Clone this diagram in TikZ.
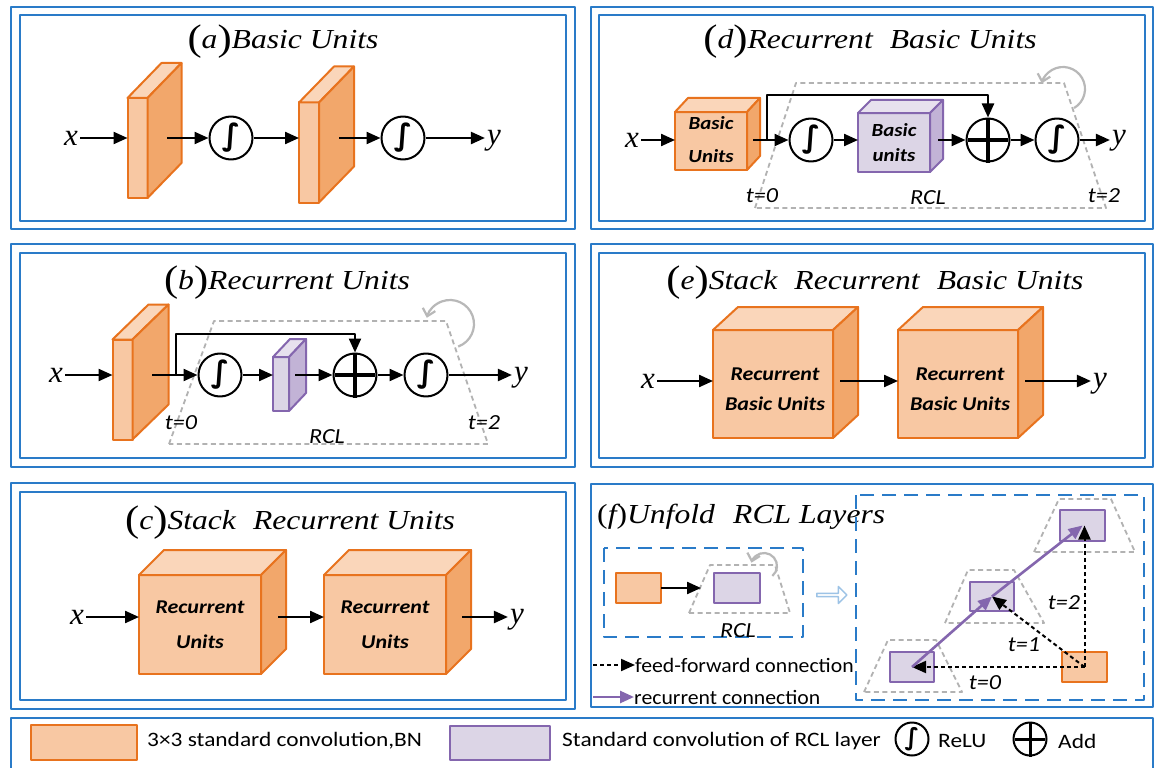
\documentclass[tikz,border=0pt]{standalone}
\usepackage{fontspec}
\setmainfont{Liberation Serif}
\newfontfamily\calfont{Carlito}
\newfontfamily\djvfont{DejaVu Sans}
\usetikzlibrary{arrows.meta,shapes.geometric,shapes.arrows}

\definecolor{pblue}{HTML}{2A7BC8}
\definecolor{lblue}{HTML}{9DC3E6}
\definecolor{oedge}{HTML}{E8731E}
\definecolor{ofront}{HTML}{F8C8A3}
\definecolor{oside}{HTML}{F2A76B}
\definecolor{otop}{HTML}{FAD6BA}
\definecolor{pedge}{HTML}{8466AE}
\definecolor{pfront}{HTML}{DCD5E6}
\definecolor{pside}{HTML}{C2B3D6}
\definecolor{ptop}{HTML}{E7E1EE}
\definecolor{rclgray}{HTML}{B2B2B2}
\definecolor{loopgray}{HTML}{B8B8B8}

\newcommand\tp[1]{{\fontsize{37}{37}\selectfont\upshape\raisebox{-2pt}{#1}}}
\newcommand\bi[2]{\calfont\bfseries\itshape\fontsize{#1}{#2}\selectfont}

\tikzset{
  frame/.style={draw=pblue, line width=2.4pt},
  arr/.style={line width=2.3pt, -{Triangle[length=14pt,width=12pt]}},
  faceo/.style={rectangle, draw=oedge, fill=ofront, line width=2pt, inner sep=0pt, outer sep=0pt},
  facep/.style={rectangle, draw=pedge, fill=pfront, line width=2pt, inner sep=0pt, outer sep=0pt},
  edgeo/.style={draw=oedge, line width=2pt},
  edgep/.style={draw=pedge, line width=2pt},
  relu/.style={circle, draw, line width=2pt, minimum size=43pt, inner sep=0pt, fill=white,
    font=\djvfont\bfseries\fontsize{30}{30}\selectfont},
  plusc/.style={circle, draw, line width=2pt, minimum size=43pt, inner sep=0pt, fill=white},
  plusbar/.style={line width=3.8pt, shorten <=2.5pt, shorten >=2.5pt},
  ttl/.style={font=\fontsize{27.5}{32}\selectfont\itshape, xscale=1.15, inner sep=0pt},
  var/.style={font=\fontsize{31}{31}\selectfont\itshape, inner sep=2pt},
  lbl/.style={font=\calfont\itshape\fontsize{21.5}{21.5}\selectfont, xscale=1.12, inner sep=0pt},
  cubelbl/.style={align=center, inner sep=0pt, xscale=1.13},
  rcl/.style={draw=rclgray, line width=1.8pt, dash pattern=on 5pt off 3.5pt},
  loopar/.style={draw=loopgray, line width=2.2pt, -{Straight Barb[length=7pt,width=13pt]}},
  bdash/.style={draw=pblue, line width=2pt, dash pattern=on 14pt off 8pt},
  ff/.style={line width=2pt, dash pattern=on 4pt off 3pt, -{Triangle[length=14pt,width=12pt]}},
  rec/.style={draw=pedge, line width=2.6pt, -{Triangle[length=14pt,width=12pt]}},
  lgd/.style={font=\calfont\fontsize{20.5}{20.5}\selectfont, inner sep=0pt},
}

% front face node plus top and side faces of a box
% #1 name, #2 #3 centre of the front face, #4 width, #5 height, #6 #7 depth, #8 o/p colour set
\newcommand\cuboid[8]{%
  \node[face#8, minimum width=#4pt, minimum height=#5pt] (#1) at (#2,#3) {};
  \filldraw[edge#8, fill=#8top] (#1.north west) -- ++(#6,-#7) -- ++(#4,0) -- (#1.north east) -- cycle;
  \filldraw[edge#8, fill=#8side] (#1.north east) -- ++(#6,-#7) -- ++(0,#5) -- (#1.south east) -- cycle;}

\begin{document}
\begin{tikzpicture}[x=1pt,y=-1pt,line join=round]
\useasboundingbox (0,0) rectangle (1160,768);
\fill[white] (0,0) rectangle (1160,768);

% ---------------- frames
\draw[frame] (11,7) rectangle (575,229);    \draw[frame] (20,15) rectangle (566,221);
\draw[frame] (591,7) rectangle (1153,229);  \draw[frame] (599,15) rectangle (1145,221);
\draw[frame] (11,244) rectangle (575,467);  \draw[frame] (20,253) rectangle (566,458);
\draw[frame] (591,244) rectangle (1153,467);\draw[frame] (599,253) rectangle (1145,458);
\draw[frame] (11,483) rectangle (575,709);  \draw[frame] (20,492) rectangle (566,700);
\draw[frame] (591,484) rectangle (1153,707);
\draw[frame] (11,718) rectangle (1153,775);

% ---------------- (a) basic units
\node[ttl] (ta) at (283,42) {\tp{(}a\tp{)}Basic Units};
\node[var] (ax) at (71,138) {x};
\cuboid{as1}{137.5}{148}{20}{100}{34}{35}{o}
\node[relu] (ar1) at (231,138) {∫};
\cuboid{as2}{309}{152.5}{20}{100}{35}{36}{o}
\node[relu] (ar2) at (403,138) {∫};
\node[var] (ay) at (494,141) {y};
\coordinate (ao1) at (167,138);
\coordinate (ao2) at (339,138);
\draw[arr] (ax) -- (ax -| as1.west);
\draw[arr] (ao1) -- (ar1);
\draw[arr] (ar1) -- (ar1 -| as2.west);
\draw[arr] (ao2) -- (ar2);
\draw[arr] (ar2) -- (ar2 -| ay.west);

% ---------------- (d) recurrent basic units
\node[ttl] (td) at (870,42) {\tp{(}d\tp{)}Recurrent\hspace{8pt} Basic Units};
\draw[rcl] (755,208) -- (796,83) -- (1064,83) -- (1106,208) -- cycle;
\coordinate (dloop) at (1063,89);
\draw[loopar] (dloop) ++(60:22) arc[start angle=60,end angle=-165,radius=22];
\node[var] (dx) at (632,140) {x};
\cuboid{dbu}{711}{141}{72}{58}{13}{14}{o}
\node[cubelbl, font=\bi{18.5}{33}] (dbut) at (711,140) {Basic\\Units};
\node[relu] (dr1) at (811,140) {∫};
\cuboid{dpu}{894}{142.5}{72}{59}{13}{13}{p}
\node[cubelbl, font=\bi{18.5}{25}] (dput) at (894,143) {Basic\\units};
\node[plusc] (dp) at (988,140) {};
\draw[plusbar] (dp.north) -- (dp.south) (dp.west) -- (dp.east);
\node[relu] (dr2) at (1057,140) {∫};
\node[var] (dy) at (1119,141) {y};
\coordinate (do1) at (753,140);
\coordinate (dsk) at (767,140);
\coordinate (do2) at (938,140);
\draw[arr] (dx) -- (dx -| dbu.west);
\draw[arr] (do1) -- (dr1);
\draw[arr] (dr1) -- (dr1 -| dpu.west);
\draw[arr] (do2) -- (dp);
\draw[arr] (dp) -- (dr2);
\draw[arr] (dr2) -- (dr2 -| dy.west);
\draw[arr] (dsk) -- ++(0,-45) -| (dp.north);
\node[lbl] (dt0) at (762,196) {t=0};
\node[lbl] (drcl) at (928,198) {RCL};
\node[lbl] (dt2) at (1104,196) {t=2};

% ---------------- (b) recurrent units
\node[ttl] (tb) at (287,283) {\tp{(}b\tp{)}Recurrent Units};
\draw[rcl] (169,444) -- (214,321) -- (446,321) -- (488,444) -- cycle;
\coordinate (bloop) at (450,324);
\draw[loopar] (bloop) ++(70:24) arc[start angle=70,end angle=-165,radius=24];
\node[var] (bx) at (56,375) {x};
\cuboid{bs}{122.5}{389.5}{20}{100}{36}{35}{o}
\node[relu] (br1) at (220,375) {∫};
\cuboid{bq}{281}{384}{16}{54}{17}{18}{p}
\node[plusc] (bp) at (355,375) {};
\draw[plusbar] (bp.north) -- (bp.south) (bp.west) -- (bp.east);
\node[relu] (br2) at (426,375) {∫};
\node[var] (by) at (521,378) {y};
\coordinate (bo1) at (152,375);
\coordinate (bsk) at (176,375);
\coordinate (bo2) at (295,375);
\draw[arr] (bx) -- (bx -| bs.west);
\draw[arr] (bo1) -- (br1);
\draw[arr] (br1) -- (br1 -| bq.west);
\draw[arr] (bo2) -- (bp);
\draw[arr] (bp) -- (br2);
\draw[arr] (br2) -- (br2 -| by.west);
\draw[arr] (bsk) -- ++(0,-41) -| (bp.north);
\node[lbl] (bt0) at (181,423) {t=0};
\node[lbl] (brcl) at (327,437) {RCL};
\node[lbl] (bt2) at (484,423) {t=2};

% ---------------- (c) stack recurrent units
\node[ttl] (tc) at (290,523) {\tp{(}c\tp{)}Stack\hspace{8pt} Recurrent Units};
\node[var] (cx) at (77,617) {x};
\cuboid{cc1}{200}{624.5}{122}{99}{25}{25}{o}
\node[cubelbl, font=\bi{19.5}{35}] (cc1t) at (200,625) {Recurrent\\Units};
\cuboid{cc2}{385}{624.5}{122}{99}{25}{25}{o}
\node[cubelbl, font=\bi{19.5}{35}] (cc2t) at (385,625) {Recurrent\\Units};
\node[var] (cy) at (517,620) {y};
\coordinate (co1) at (278,617);
\coordinate (co2) at (462,617);
\draw[arr] (cx) -- (cx -| cc1.west);
\draw[arr] (co1) -- (co1 -| cc2.west);
\draw[arr] (co2) -- (co2 -| cy.west);

% ---------------- (e) stack recurrent basic units
\node[ttl] (te) at (875,283) {\tp{(}e\tp{)}Stack\hspace{8pt} Recurrent\hspace{8pt} Basic Units};
\node[var] (ex) at (648,381) {x};
\cuboid{ec1}{773}{384}{120}{108}{25}{23}{o}
\node[cubelbl, font=\bi{19.5}{30}] (ec1t) at (775,389) {Recurrent\\Basic Units};
\cuboid{ec2}{958}{384}{120}{108}{25}{23}{o}
\node[cubelbl, font=\bi{19.5}{30}] (ec2t) at (960,389) {Recurrent\\Basic Units};
\node[var] (ey) at (1100,384) {y};
\coordinate (eo1) at (840,381);
\coordinate (eo2) at (1025,381);
\draw[arr] (ex) -- (ex -| ec1.west);
\draw[arr] (eo1) -- (eo1 -| ec2.west);
\draw[arr] (eo2) -- (eo2 -| ey.west);

% ---------------- (f) unfolded RCL layers
\node[ttl, anchor=west] (tf) at (597,517) {{\upshape(}f{\upshape)}Unfold\hspace{9pt} RCL Layers};
% folded view
\draw[bdash] (604,548) rectangle (803,637);
\draw[rcl] (689,613) -- (710,565) -- (775,565) -- (790,613) -- cycle;
\coordinate (floop) at (764,566);
\draw[loopar] (floop) ++(50:13) arc[start angle=50,end angle=-165,radius=13];
\node[faceo, minimum width=45pt, minimum height=30pt] (fo) at (638.5,588) {};
\node[facep, minimum width=46pt, minimum height=30pt] (fp) at (737,588) {};
\coordinate (fin) at (701,588);
\draw[arr] (fo) -- (fin);
\node[lbl] (frcl) at (738,631) {RCL};
\node[single arrow, draw=lblue, line width=1.5pt, minimum height=30pt, minimum width=17pt,
  single arrow head extend=3pt, inner sep=0pt] (fto) at (831,595) {};
% unfolded view
\draw[bdash] (856,495) rectangle (1144,700);
\draw[rcl] (864,692) -- (888,640) -- (936,640) -- (962,692) -- cycle;
\draw[rcl] (945,623) -- (968,570) -- (1014,570) -- (1044,623) -- cycle;
\draw[rcl] (1034,552) -- (1059,499) -- (1111,499) -- (1135,552) -- cycle;
\node[facep, minimum width=44pt, minimum height=30pt] (fp1) at (912,667) {};
\node[facep, minimum width=44pt, minimum height=29pt] (fp2) at (992,596.5) {};
\node[facep, minimum width=45pt, minimum height=31pt] (fp3) at (1082.5,525.5) {};
\node[faceo, minimum width=45pt, minimum height=30pt] (fo1) at (1084.5,667) {};
\draw[ff] (fo1.center) -- (fp1.center);
\draw[ff] (fo1.center) -- (fp2.center);
\draw[ff] (fo1.center) -- (fo1.center |- fp3.center);
\draw[rec] (fp1.center) -- (fp2.center);
\draw[rec] (fp2.center) -- (fp3.center);
\node[lbl] (ft0) at (985,683) {t=0};
\node[lbl] (ft1) at (1024,645) {t=1};
\node[lbl] (ft2) at (1064,603) {t=2};
% key of the two connection types
\node[lgd, anchor=west, xscale=1.06] (lff) at (635,665) {feed-forward connection};
\node[lgd, anchor=west, xscale=1.06] (lrc) at (634,697) {recurrent connection};
\coordinate (lffs) at (593,665);
\coordinate (lrcs) at (593,697);
\draw[ff] (lffs) -- (lff.west);
\draw[rec] (lrcs) -- (lrc.west);

% ---------------- key
\node[faceo, minimum width=106pt, minimum height=35pt] (kgo) at (84,742) {};
\node[lgd, anchor=west, xscale=1.14] (kgot) at (147,741) {3×3 standard convolution,BN};
\node[facep, minimum width=100pt, minimum height=34pt] (kgp) at (500,742.5) {};
\node[lgd, anchor=west, xscale=1.14] (kgpt) at (562,741) {Standard convolution of RCL layer};
\node[relu, minimum size=33pt, font=\djvfont\bfseries\fontsize{24}{24}\selectfont] (kgr) at (912,739) {∫};
\node[lgd, anchor=west, xscale=1.14] (kgrt) at (938,741) {ReLU};
\node[plusc, minimum size=33pt] (kga) at (1030,739) {};
\draw[plusbar, line width=3pt] (kga.north) -- (kga.south) (kga.west) -- (kga.east);
\node[lgd, anchor=west, xscale=1.14] (kgat) at (1058,741) {Add};
\end{tikzpicture}
\end{document}
